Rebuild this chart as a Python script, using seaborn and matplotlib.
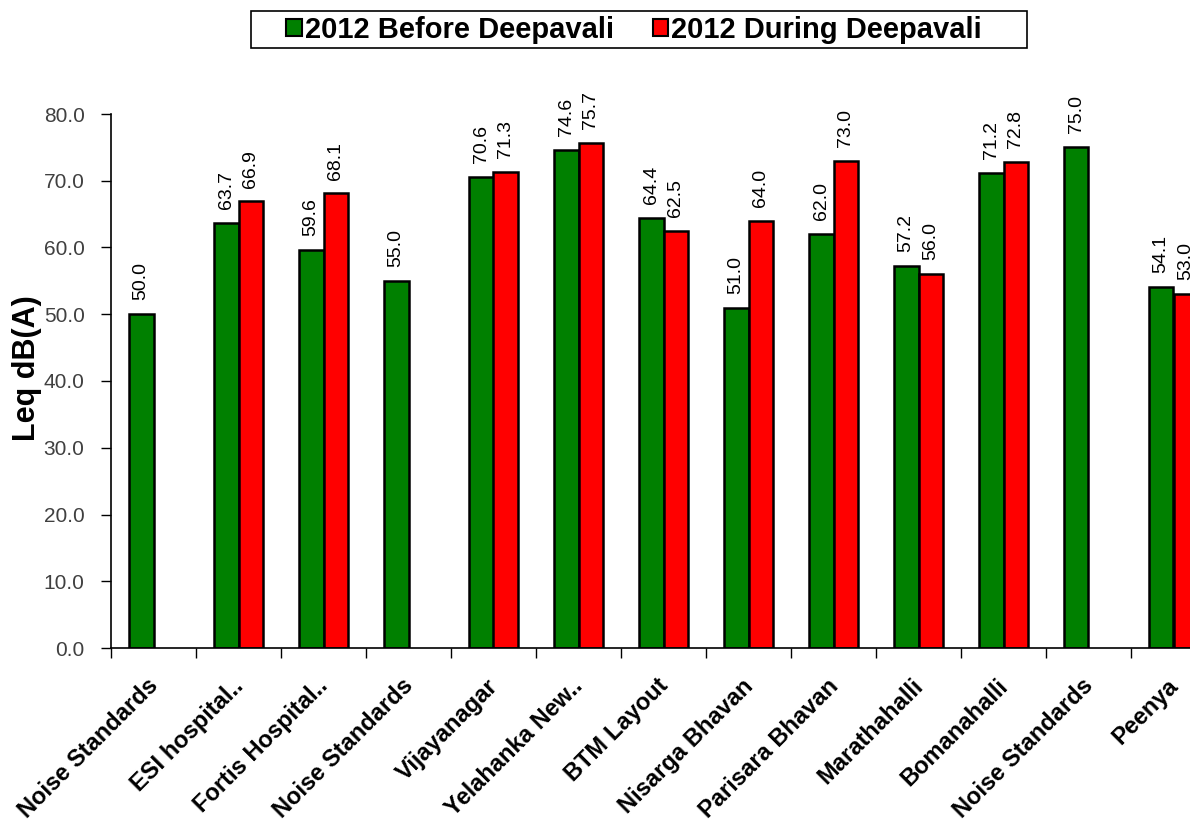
import numpy as np
import pandas as pd
import matplotlib
matplotlib.use("Agg")
import matplotlib.pyplot as plt
from matplotlib.patches import Patch, Rectangle
from matplotlib.transforms import ScaledTranslation
import seaborn as sns

# Monitoring locations (bar groups, left to right)
locations = [
    "Noise Standards", "ESI hospital..", "Fortis Hospital..", "Noise Standards",
    "Vijayanagar", "Yelahanka New..", "BTM Layout", "Nisarga Bhavan",
    "Parisara Bhavan", "Marathahalli", "Bomanahalli", "Noise Standards", "Peenya",
]
series_names = ["2012 Before Deepavali", "2012 During Deepavali"]
before_values = [50.0, 63.7, 59.6, 55.0, 70.6, 74.6, 64.4, 51.0, 62.0, 57.2, 71.2, 75.0, 54.1]
during_values = [np.nan, 66.9, 68.1, np.nan, 71.3, 75.7, 62.5, 64.0, 73.0, 56.0, 72.8, np.nan, 53.0]
y_ticks = [0, 10, 20, 30, 40, 50, 60, 70, 80]
colors = ["#008000", "#FF0000"]

sns.set_theme(style="ticks")
plt.rcParams["font.family"] = ["Liberation Sans", "DejaVu Sans"]
plt.rcParams["text.color"] = "black"
plt.rcParams["axes.labelcolor"] = "black"

n = len(locations)
df = pd.DataFrame({
    "pos": list(range(n)) * 2,
    "series": [series_names[0]] * n + [series_names[1]] * n,
    "value": before_values + during_values,
}).dropna()

W, H = 1190, 825
fig = plt.figure(figsize=(W / 100, H / 100), dpi=100)
ax = fig.add_axes([111 / W, 177 / H, 1079 / W, 534 / H])

sns.barplot(
    data=df, x="pos", y="value", hue="series",
    order=list(range(n)), hue_order=series_names, palette=colors,
    saturation=1, width=0.58, edgecolor="black", linewidth=1.8,
    errorbar=None, legend=False, ax=ax,
)

for container in ax.containers:
    ax.bar_label(container, fmt="%.1f", rotation=90, padding=10,
                 fontsize=14, color="black")

ax.set_ylim(0, 80)
ax.set_yticks(y_ticks)
ax.set_yticklabels([f"{v:.1f}" for v in y_ticks], fontsize=15, color="#404040")

# Tick marks at group boundaries, labels at group centres
bounds = np.arange(-0.5, n, 1.0)
ax.set_xticks(bounds)
ax.set_xticklabels([""] * len(bounds))
ax.set_xticks(np.arange(n), minor=True)
ax.set_xticklabels(locations, minor=True, rotation=45, ha="right",
                   rotation_mode="anchor", fontsize=17, fontweight="bold",
                   color="black")
ax.tick_params(axis="x", which="minor", length=0, pad=19)
ax.tick_params(axis="x", which="major", length=7, width=1, color="black", direction="out")
ax.tick_params(axis="y", length=7, width=1, color="black", direction="out", pad=12)
ax.set_xlim(-0.5, -0.5 + 1079 / 85.0)

shift = ScaledTranslation(-0.07, 0, fig.dpi_scale_trans)
for lbl in ax.get_xticklabels(minor=True):
    lbl.set_transform(lbl.get_transform() + shift)

ax.set_xlabel("")
ax.set_ylabel("Leq dB(A)", fontsize=22, fontweight="bold", color="black")
ax.yaxis.set_label_coords(-0.064, 0.524)

sns.despine(ax=ax, top=True, right=True)
for side in ["left", "bottom"]:
    ax.spines[side].set_color("black")
    ax.spines[side].set_linewidth(1.2)

handles = [Patch(facecolor=c, edgecolor="black", linewidth=1.5) for c in colors]
leg = fig.legend(
    handles, series_names, loc="center", bbox_to_anchor=(634 / W, 1 - 29.5 / H),
    ncol=2, frameon=False, labelcolor="black",
    prop={"weight": "bold", "size": 21},
    handlelength=0.52, handleheight=0.52, handletextpad=0.1, columnspacing=1.34,
    borderpad=0.0,
)
fig.add_artist(Rectangle((251 / W, 1 - 48 / H), (1027 - 251) / W, 37 / H,
                         transform=fig.transFigure, facecolor="none",
                         edgecolor="black", linewidth=1.2))

fig.savefig("out.png", dpi=100, facecolor="white")
